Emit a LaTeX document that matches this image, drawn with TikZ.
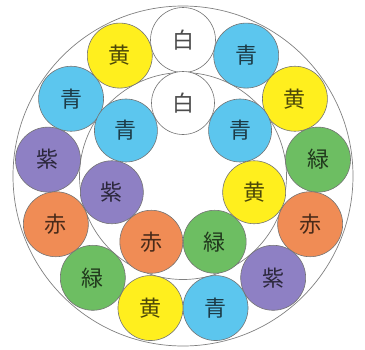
\documentclass[tikz,border=0pt]{standalone}
\usetikzlibrary{calc}
\usepackage{fontspec}
\newfontfamily\cjk{Noto Sans CJK JP}
\definecolor{cyel}{HTML}{FFEF1E}
\definecolor{cblu}{HTML}{5CC6EE}
\definecolor{cgrn}{HTML}{6DBE62}
\definecolor{cred}{HTML}{F08C55}
\definecolor{cpur}{HTML}{8E80C4}
\definecolor{cwht}{HTML}{FFFFFF}
\tikzset{
  ring/.style={draw=black!50, line width=0.7pt},
  ball/.style={circle, draw=black!55, line width=0.6pt, minimum size=#1, inner sep=0pt, font=\cjk\fontsize{22}{22}\selectfont},
}
\begin{document}
\begin{tikzpicture}[x=1pt,y=-1pt]
\useasboundingbox (0,0) rectangle (365,349);
\coordinate (c) at (183,176);
\node[ring, circle, minimum size=340pt, inner sep=0pt] (outer) at (c) {};
\node[ring, circle, minimum size=207pt, inner sep=0pt] (inner) at (c) {};
\foreach \t/\col [count=\i from 0] in {白/cwht,青/cblu,黄/cyel,緑/cgrn,赤/cred,紫/cpur,青/cblu,黄/cyel,緑/cgrn,赤/cred,紫/cpur,青/cblu,黄/cyel}{
  \node[ball=65pt, fill=\col, text=\col!30!black] (o\i) at ($(c)+({\i*360/13-90}:136)$) {\t};
}
\foreach \t/\col [count=\i from 0] in {白/cwht,青/cblu,黄/cyel,緑/cgrn,赤/cred,紫/cpur,青/cblu}{
  \node[ball=63pt, fill=\col, text=\col!30!black] (n\i) at ($(c)+({\i*360/7-90}:73)$) {\t};
}
\end{tikzpicture}
\end{document}
